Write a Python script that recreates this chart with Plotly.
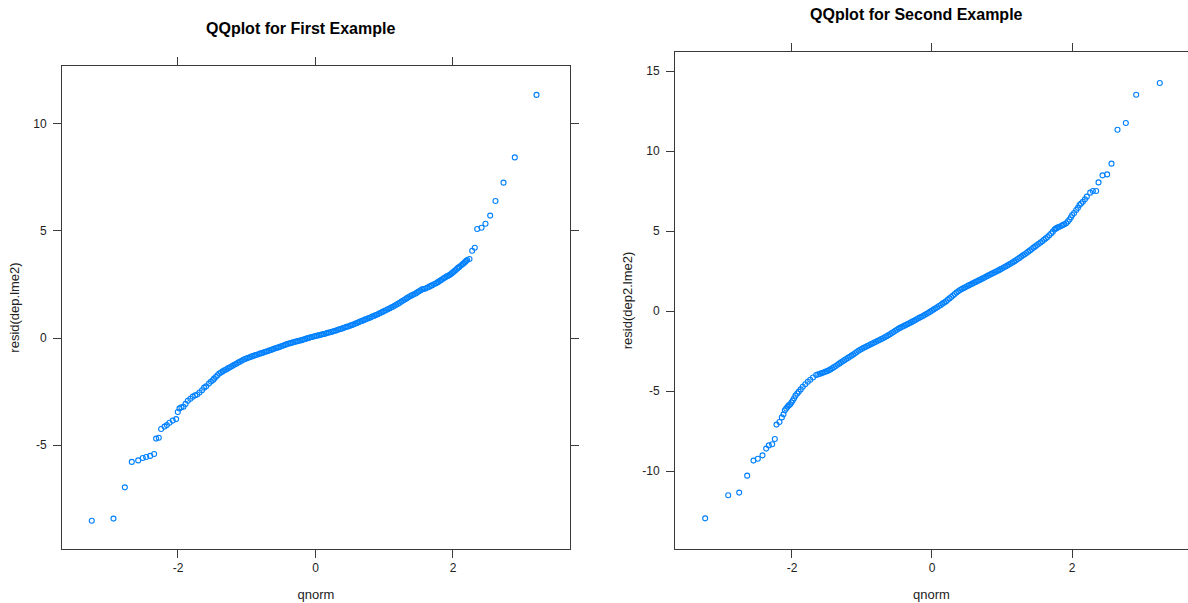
import plotly.graph_objects as go

# ---------------- data ----------------
# Panel 1: theoretical normal quantiles and sorted residuals of dep.lme2
qnorm_1 = [
    # lower tail
    -3.254, -2.938, -2.773, -2.672, -2.579, -2.512, -2.463, -2.405, -2.347, -2.318,
    -2.279, -2.245, -2.196, -2.162, -2.124, -2.076, -2.027, -2.003, -1.978, -1.95,
    -1.92, -1.89, -1.857, -1.82, -1.785, -1.75, -1.72, -1.687, -1.65, -1.62,
    -1.59, -1.55, -1.52, -1.49,
    # dense middle
    -1.475, -1.450, -1.425, -1.400, -1.375, -1.350, -1.325, -1.300, -1.275, -1.250,
    -1.225, -1.200, -1.175, -1.150, -1.125, -1.100, -1.075, -1.050, -1.025, -1.000,
    -0.975, -0.950, -0.925, -0.900, -0.875, -0.850, -0.825, -0.800, -0.775, -0.750,
    -0.725, -0.700, -0.675, -0.650, -0.625, -0.600, -0.575, -0.550, -0.525, -0.500,
    -0.475, -0.450, -0.425, -0.400, -0.375, -0.350, -0.325, -0.300, -0.275, -0.250,
    -0.225, -0.200, -0.175, -0.150, -0.125, -0.100, -0.075, -0.050, -0.025, 0.000,
    0.025, 0.050, 0.075, 0.100, 0.125, 0.150, 0.175, 0.200, 0.225, 0.250,
    0.275, 0.300, 0.325, 0.350, 0.375, 0.400, 0.425, 0.450, 0.475, 0.500,
    0.525, 0.550, 0.575, 0.600, 0.625, 0.650, 0.675, 0.700, 0.725, 0.750,
    0.775, 0.800, 0.825, 0.850, 0.875, 0.900, 0.925, 0.950, 0.975, 1.000,
    1.025, 1.050, 1.075, 1.100, 1.125, 1.150, 1.175, 1.200, 1.225, 1.250,
    1.275, 1.300, 1.325, 1.350, 1.375, 1.400, 1.425, 1.450, 1.475,
    # upper part
    1.50, 1.525, 1.55, 1.575, 1.60, 1.63, 1.658, 1.68, 1.70, 1.73,
    1.756, 1.775, 1.79, 1.81, 1.828, 1.85, 1.87, 1.89, 1.91, 1.93,
    1.949, 1.965, 1.985, 2.005, 2.022, 2.04, 2.06, 2.08, 2.095, 2.12,
    2.143, 2.16, 2.175, 2.19, 2.207, 2.24,
    2.279, 2.317, 2.352, 2.415, 2.473, 2.541, 2.618, 2.735, 2.899, 3.215,
]
resid_1 = [
    # lower tail
    -8.54, -8.44, -6.98, -5.79, -5.72, -5.61, -5.56, -5.51, -5.42, -4.70,
    -4.66, -4.25, -4.14, -4.07, -3.96, -3.86, -3.79, -3.46, -3.29, -3.24,
    -3.21, -3.08, -2.93, -2.84, -2.74, -2.68, -2.64, -2.55, -2.44, -2.32,
    -2.26, -2.13, -2.03, -1.96,
    # dense middle
    -1.90, -1.82, -1.74, -1.66, -1.61, -1.56, -1.51, -1.47, -1.42, -1.38,
    -1.33, -1.29, -1.24, -1.20, -1.15, -1.11, -1.06, -1.02, -0.98, -0.95,
    -0.92, -0.89, -0.86, -0.83, -0.80, -0.78, -0.75, -0.72, -0.70, -0.67,
    -0.64, -0.62, -0.59, -0.56, -0.53, -0.50, -0.47, -0.45, -0.42, -0.39,
    -0.36, -0.33, -0.30, -0.27, -0.25, -0.23, -0.20, -0.18, -0.16, -0.14,
    -0.12, -0.10, -0.07, -0.05, -0.02, 0.00, 0.03, 0.05, 0.07, 0.09,
    0.11, 0.13, 0.15, 0.17, 0.19, 0.21, 0.24, 0.26, 0.28, 0.30,
    0.33, 0.35, 0.38, 0.41, 0.43, 0.46, 0.49, 0.52, 0.54, 0.57,
    0.60, 0.63, 0.66, 0.70, 0.73, 0.77, 0.80, 0.83, 0.87, 0.90,
    0.93, 0.96, 1.00, 1.03, 1.07, 1.10, 1.14, 1.18, 1.22, 1.26,
    1.30, 1.34, 1.38, 1.42, 1.46, 1.51, 1.55, 1.60, 1.65, 1.70,
    1.75, 1.80, 1.85, 1.90, 1.95, 1.99, 2.03, 2.07, 2.12,
    # upper part
    2.17, 2.22, 2.27, 2.29, 2.31, 2.36, 2.40, 2.44, 2.47, 2.52,
    2.56, 2.60, 2.63, 2.67, 2.71, 2.76, 2.80, 2.84, 2.88, 2.91,
    2.94, 2.98, 3.03, 3.08, 3.13, 3.18, 3.24, 3.29, 3.33, 3.40,
    3.46, 3.50, 3.55, 3.60, 3.64, 3.69,
    4.08, 4.22, 5.09, 5.15, 5.34, 5.72, 6.40, 7.26, 8.44, 11.36,
]

# Panel 2: theoretical normal quantiles and sorted residuals of dep2.lme2
qnorm_2 = [
    # lower tail
    -3.24, -2.911, -2.754, -2.64, -2.55, -2.488, -2.421, -2.369, -2.331, -2.283,
    -2.245, -2.221, -2.179, -2.145, -2.121, -2.102, -2.083, -2.064, -2.045, -2.026,
    -2.008, -1.989, -1.97, -1.95, -1.925, -1.903, -1.875, -1.846, -1.81, -1.774,
    -1.74, -1.70, -1.654,
    # dense middle
    -1.625, -1.600, -1.575, -1.550, -1.525, -1.500, -1.475, -1.450, -1.425, -1.400,
    -1.375, -1.350, -1.325, -1.300, -1.275, -1.250, -1.225, -1.200, -1.175, -1.150,
    -1.125, -1.100, -1.075, -1.050, -1.025, -1.000, -0.975, -0.950, -0.925, -0.900,
    -0.875, -0.850, -0.825, -0.800, -0.775, -0.750, -0.725, -0.700, -0.675, -0.650,
    -0.625, -0.600, -0.575, -0.550, -0.525, -0.500, -0.475, -0.450, -0.425, -0.400,
    -0.375, -0.350, -0.325, -0.300, -0.275, -0.250, -0.225, -0.200, -0.175, -0.150,
    -0.125, -0.100, -0.075, -0.050, -0.025, 0.000, 0.025, 0.050, 0.075, 0.100,
    0.125, 0.150, 0.175, 0.200, 0.225, 0.250, 0.275, 0.300, 0.325, 0.350,
    0.375, 0.400, 0.425, 0.450, 0.475, 0.500, 0.525, 0.550, 0.575, 0.600,
    0.625, 0.650, 0.675, 0.700, 0.725, 0.750, 0.775, 0.800, 0.825, 0.850,
    0.875, 0.900, 0.925, 0.950, 0.975, 1.000, 1.025, 1.050, 1.075, 1.100,
    1.125, 1.150, 1.175, 1.200, 1.225, 1.250, 1.275, 1.300, 1.325, 1.350,
    1.375, 1.400, 1.425, 1.450, 1.475, 1.500, 1.525, 1.550, 1.575, 1.600,
    1.625,
    # upper part
    1.65, 1.675, 1.702, 1.726, 1.75, 1.765, 1.78, 1.80, 1.821, 1.85,
    1.869, 1.89, 1.917, 1.94, 1.964, 1.985, 2.003, 2.03, 2.06, 2.085,
    2.107, 2.13, 2.155, 2.185, 2.212, 2.26, 2.298, 2.345, 2.379, 2.436,
    2.502, 2.564, 2.65, 2.769, 2.917, 3.254,
]
resid_2 = [
    # lower tail
    -12.96, -11.52, -11.35, -10.29, -9.35, -9.23, -9.02, -8.60, -8.40, -8.33,
    -8.00, -7.10, -6.94, -6.65, -6.46, -6.21, -6.10, -5.98, -5.90, -5.83,
    -5.72, -5.60, -5.45, -5.29, -5.16, -5.04, -4.90, -4.73, -4.58, -4.42,
    -4.30, -4.16, -4.00,
    # dense middle
    -3.96, -3.92, -3.88, -3.84, -3.80, -3.76, -3.71, -3.65, -3.58, -3.51,
    -3.44, -3.36, -3.29, -3.21, -3.14, -3.07, -3.00, -2.93, -2.86, -2.79,
    -2.72, -2.64, -2.56, -2.48, -2.42, -2.36, -2.30, -2.25, -2.19, -2.14,
    -2.08, -2.03, -1.97, -1.92, -1.86, -1.81, -1.75, -1.70, -1.64, -1.58,
    -1.52, -1.45, -1.38, -1.31, -1.24, -1.17, -1.10, -1.04, -0.98, -0.93,
    -0.87, -0.82, -0.76, -0.71, -0.65, -0.60, -0.53, -0.47, -0.41, -0.36,
    -0.30, -0.24, -0.17, -0.11, -0.04, 0.03, 0.10, 0.17, 0.24, 0.31,
    0.38, 0.46, 0.53, 0.60, 0.70, 0.79, 0.88, 0.97, 1.06, 1.15,
    1.23, 1.31, 1.37, 1.43, 1.49, 1.55, 1.60, 1.65, 1.71, 1.76,
    1.82, 1.87, 1.93, 1.98, 2.04, 2.09, 2.15, 2.21, 2.27, 2.32,
    2.38, 2.43, 2.49, 2.54, 2.60, 2.66, 2.72, 2.78, 2.84, 2.90,
    2.97, 3.03, 3.10, 3.17, 3.25, 3.32, 3.40, 3.48, 3.55, 3.63,
    3.71, 3.79, 3.88, 3.96, 4.04, 4.12, 4.20, 4.28, 4.36, 4.45,
    4.54,
    # upper part
    4.63, 4.74, 4.85, 4.96, 5.10, 5.14, 5.18, 5.23, 5.27, 5.33,
    5.38, 5.42, 5.48, 5.60, 5.72, 5.86, 6.00, 6.13, 6.31, 6.45,
    6.63, 6.72, 6.83, 6.98, 7.15, 7.40, 7.50, 7.50, 8.04, 8.48,
    8.54, 9.21, 11.33, 11.75, 13.52, 14.25,
]

assert len(qnorm_1) == len(resid_1)
assert len(qnorm_2) == len(resid_2)

x_ticks = [-2, 0, 2]
x_ticklabels = ["-2", "0", "2"]
y_ticks_1 = [-5, 0, 5, 10]
y_ticklabels_1 = ["-5", "0", "5", "10"]
y_ticks_2 = [-10, -5, 0, 5, 10, 15]
y_ticklabels_2 = ["-10", "-5", "0", "5", "10", "15"]

titles = ["QQplot for First Example", "QQplot for Second Example"]
x_title = "qnorm"
y_titles = ["resid(dep.lme2)", "resid(dep2.lme2)"]

# ---------------- figure ----------------
W, H = 1188, 603
POINT_COLOR = "#0080ff"
AXIS_COLOR = "#3a3a3a"
TEXT_COLOR = "#222222"
FONT = "Liberation Sans, Arial, sans-serif"

fig = go.Figure()
marker = dict(symbol="circle-open", size=5, color=POINT_COLOR,
              line=dict(width=1.1, color=POINT_COLOR))
fig.add_trace(go.Scatter(x=qnorm_1, y=resid_1, mode="markers", marker=marker,
                         xaxis="x", yaxis="y", showlegend=False))
fig.add_trace(go.Scatter(x=qnorm_2, y=resid_2, mode="markers", marker=marker,
                         xaxis="x2", yaxis="y2", showlegend=False))


def px_x(p):
    return p / W


def px_y(p):
    return 1 - p / H


common = dict(showgrid=False, zeroline=False, showline=True, linecolor=AXIS_COLOR,
              linewidth=1, ticks="outside", ticklen=8, tickwidth=1, tickcolor=AXIS_COLOR,
              tickfont=dict(family=FONT, size=12, color=TEXT_COLOR))
title_font = dict(family=FONT, size=13, color=TEXT_COLOR)

fig.update_layout(
    width=W, height=H,
    margin=dict(l=0, r=0, t=0, b=0),
    paper_bgcolor="white", plot_bgcolor="white",
    font=dict(family=FONT, color=TEXT_COLOR),
    xaxis=dict(domain=[px_x(62), px_x(570)], range=[-3.687, 3.702], anchor="y",
               tickvals=x_ticks, ticktext=x_ticklabels, mirror="ticks",
               title=dict(text=x_title, font=title_font, standoff=15), **common),
    yaxis=dict(domain=[px_y(549), px_y(66)], range=[-9.86, 12.71], anchor="x",
               tickvals=y_ticks_1, ticktext=y_ticklabels_1, mirror="ticks",
               ticklabelstandoff=4,
               title=dict(text=y_titles[0], font=title_font, standoff=10), **common),
    xaxis2=dict(domain=[px_x(675), 1.0], range=[-3.671, 3.657], anchor="y2",
                tickvals=x_ticks, ticktext=x_ticklabels, mirror="ticks",
                title=dict(text=x_title, font=title_font, standoff=15), **common),
    yaxis2=dict(domain=[px_y(549), px_y(52)], range=[-14.875, 16.19], anchor="x2",
                tickvals=y_ticks_2, ticktext=y_ticklabels_2, mirror=False,
                ticklabelstandoff=4,
                title=dict(text=y_titles[1], font=title_font, standoff=6), **common),
    annotations=[
        dict(text="<b>" + titles[0] + "</b>", x=px_x(300), y=px_y(28), xref="paper", yref="paper",
             showarrow=False, font=dict(family=FONT, size=16, color="#000"),
             xanchor="center", yanchor="middle"),
        dict(text="<b>" + titles[1] + "</b>", x=px_x(916), y=px_y(15), xref="paper", yref="paper",
             showarrow=False, font=dict(family=FONT, size=16, color="#000"),
             xanchor="center", yanchor="middle"),
    ],
)

fig.write_html("out.html",
               config={"displayModeBar": False},
               post_script="document.body.style.margin='0';document.body.style.overflow='hidden';")
